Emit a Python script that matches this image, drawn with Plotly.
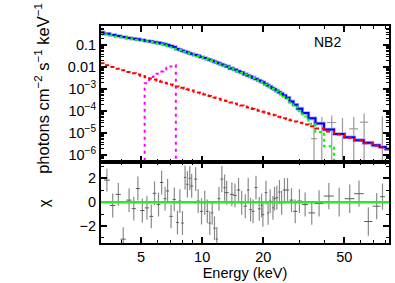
import math
import plotly.graph_objects as go
from plotly.subplots import make_subplots

# ---------------- data ----------------
model_E = [3.15, 3.40, 3.63, 3.87, 4.09, 4.37, 4.61, 4.83, 5.08, 5.35, 5.62, 5.83, 6.10, 6.32, 6.57, 6.76,
           7.03, 7.29, 7.56, 7.77, 8.00, 8.24, 8.46, 8.69, 8.88, 9.29, 9.56, 9.93, 10.3, 10.6, 10.9, 11.2,
           11.5, 11.8, 12.1, 12.5, 12.9, 13.2, 14.0, 14.5, 15.1, 15.65, 16.3, 16.85, 17.3, 17.8, 18.4, 19.1,
           19.6, 19.9, 20.6, 21.1, 21.6, 22.3, 22.7, 23.3, 24.0, 24.6, 25.4, 26.3, 27.5, 28.7, 30.1, 32.1,
           34.6, 37.6, 42.0, 47.2, 53.2, 59.1, 65.7, 72.2, 77.1, 83.0]

model_total = [0.389, 0.331, 0.295, 0.263, 0.240, 0.216, 0.200, 0.186, 0.174, 0.158, 0.148, 0.138, 0.129, 0.120,
               0.112, 0.104, 0.0935, 0.0840, 0.0675, 0.0625, 0.0566, 0.0515, 0.0479, 0.0437, 0.0407, 0.0363,
               0.0331, 0.0295, 0.0263, 0.0240, 0.0219, 0.0200, 0.0182, 0.0166, 0.0151, 0.0135, 0.0120, 0.0110,
               8.91e-3, 7.76e-3, 6.61e-3, 5.75e-3, 4.90e-3, 4.27e-3, 3.80e-3, 3.39e-3, 2.95e-3, 2.51e-3,
               2.24e-3, 2.09e-3, 1.74e-3, 1.51e-3, 1.32e-3, 1.12e-3, 1.00e-3, 8.71e-4, 7.41e-4, 6.31e-4,
               5.25e-4, 4.17e-4, 2.82e-4, 2.00e-4, 1.32e-4, 8.32e-5, 4.79e-5, 2.82e-5, 1.48e-5, 9.3e-6,
               6.6e-6, 4.9e-6, 3.7e-6, 2.85e-6, 2.38e-6, 1.95e-6]

model_powerlaw = [1.52e-2, 1.23e-2, 1.03e-2, 8.59e-3, 7.38e-3, 6.17e-3, 5.31e-3, 4.67e-3, 4.06e-3, 3.53e-3,
                  3.08e-3, 2.79e-3, 2.46e-3, 2.23e-3, 2.00e-3, 1.85e-3, 1.66e-3, 1.51e-3, 1.36e-3, 1.26e-3,
                  1.17e-3, 1.07e-3, 1.00e-3, 9.29e-4, 8.75e-4, 7.73e-4, 7.13e-4, 6.43e-4, 5.81e-4, 5.37e-4,
                  4.97e-4, 4.61e-4, 4.29e-4, 3.99e-4, 3.72e-4, 3.40e-4, 3.13e-4, 2.94e-4, 2.50e-4, 2.27e-4,
                  2.03e-4, 1.84e-4, 1.65e-4, 1.50e-4, 1.40e-4, 1.29e-4, 1.18e-4, 1.07e-4, 9.93e-5, 9.53e-5,
                  8.67e-5, 8.11e-5, 7.60e-5, 6.97e-5, 6.62e-5, 6.17e-5, 5.68e-5, 5.31e-5, 4.86e-5, 4.42e-5,
                  3.91e-5, 3.48e-5, 3.05e-5, 2.55e-5, 2.08e-5, 1.66e-5, 1.22e-5, 8.85e-6, 6.37e-6, 4.77e-6,
                  3.58e-6, 2.76e-6, 2.30e-6, 1.88e-6]

model_thermal = [0.374, 0.319, 0.285, 0.254, 0.233, 0.210, 0.195, 0.181, 0.170, 0.153, 0.142, 0.131, 0.121,
                 0.111, 0.102, 0.0926, 0.0808, 0.0702, 0.0661, 0.0612, 0.0554, 0.0504, 0.0469, 0.0428,
                 0.0398, 0.0355, 0.0324, 0.0289, 0.0257, 0.0235, 0.0214, 0.0195, 0.0178, 0.0162, 0.0147,
                 0.0132, 0.0117, 0.0107, 8.66e-3, 7.53e-3, 6.41e-3, 5.57e-3, 4.74e-3, 4.12e-3, 3.66e-3,
                 3.26e-3, 2.83e-3, 2.40e-3, 2.14e-3, 2.00e-3, 1.65e-3, 1.43e-3, 1.24e-3, 1.05e-3, 9.34e-4,
                 8.09e-4, 6.84e-4, 5.78e-4, 4.76e-4, 3.73e-4, 2.43e-4, 1.65e-4, 1.02e-4, 5.77e-5, 2.71e-5,
                 1.16e-5, 2.6e-6, 4e-7, 2e-8, 1e-9, 1e-9, 1e-9, 1e-9, 1e-9]

line_E = [5.08, 5.35, 5.62, 5.83, 6.10, 6.32, 6.57, 6.76, 7.03, 7.29, 7.56]
line_F = [1e-9, 1.9e-3, 2.8e-3, 3.8e-3, 5.1e-3, 6.5e-3, 8.1e-3, 9.5e-3, 1.10e-2, 1.23e-2, 1e-9]

# visible high-energy data points in the upper panel
dat_E = [35.5, 38.8, 43.4, 49.0, 55.7, 62.6, 77.0]
dat_F = [5.7e-6, 3e-7, 3.1e-5, 3e-7, 1.6e-5, 3.2e-5, 3e-7]
dat_hi = [5.2e-5, 5.5e-5, 6.5e-5, 5.0e-5, 5.5e-5, 8.0e-5, 6.0e-5]
dat_lo = [1e-9, 1e-9, 1e-9, 1e-9, 1e-9, 1e-9, 1e-9]
dat_dx = [1.2, 1.0, 2.3, 1.5, 2.8, 3.0, 2.0]

# residuals
res_E = [3.40, 3.63, 3.87, 4.09, 4.37, 4.61, 4.83, 5.08, 5.35, 5.62, 5.83, 6.10, 6.32, 6.57, 6.76, 7.03,
         7.29, 7.56, 7.77, 8.00, 8.24, 8.46, 8.69, 8.88, 9.29, 9.56, 9.93, 10.3, 10.6, 10.9, 11.2, 11.5,
         11.8, 12.1, 12.5, 12.9, 13.2, 14.0, 14.5, 15.1, 15.65, 16.3, 16.85, 17.3, 17.8, 18.4, 19.1, 19.6,
         19.9, 20.6, 21.1, 21.6, 22.3, 22.7, 23.3, 24.0, 24.6, 25.4, 26.3, 27.5, 28.7, 30.1, 32.1, 34.6,
         37.6, 42.0, 47.2, 53.2, 59.1, 65.7, 72.2, 77.1]
res_val = [1.85, -0.28, 0.65, -3.1, 0.17, -0.54, 1.14, -0.7, -0.48, -1.19, 0.74, -0.2, 1.65, 0.29, 0.94,
           -1.19, 0.23, -1.7, 0.09, -1.75, 2.07, 1.5, 2.0, 1.36, 1.93, 0.09, -0.77, -0.05, -0.77, -1.75,
           -0.9, -2.18, -3.09, 0.29, 1.93, 1.22, 0.8, 0.65, 0.57, 1.02, -0.05, -0.34, 1.02, -0.62, -0.77,
           1.22, -0.56, -0.28, -1.05, 0.8, -0.9, 0.09, -0.48, 0.29, 0.37, 0.85, -0.05, 1.02, 1.02, 0.17,
           -0.77, 0.09, -0.2, -0.9, -0.11, 0.51, 0.0, 0.29, 0.71, -1.62, -0.34, 0.46]
res_err = [0.95, 1.0, 0.95, 1.0, 1.0, 1.0, 1.0, 1.0, 1.0, 1.0, 1.0, 1.0, 1.0, 1.0, 1.0, 1.0,
           1.0, 1.0, 1.0, 1.0, 1.0, 1.1, 1.0, 1.0, 1.0, 1.0, 1.1, 1.0, 1.0, 1.0, 1.0, 1.0,
           1.0, 1.0, 1.1, 1.1, 1.0, 1.0, 1.0, 1.0, 1.0, 1.0, 1.0, 1.0, 1.0, 1.0, 1.0, 1.0,
           1.0, 1.0, 1.0, 1.0, 1.0, 1.0, 1.0, 1.0, 1.0, 1.0, 1.0, 1.0, 1.0, 1.0, 1.0, 1.0,
           1.1, 1.1, 1.2, 1.2, 1.1, 1.2, 1.1, 1.1]
res_dx = [.11, .11, .11, .12, .13, .11, .11, .13, .13, .12, .12, .13, .12, .11, .12, .13, .13, .12, .11, .12,
          .11, .11, .11, .15, .16, .17, .18, .15, .15, .15, .15, .15, .15, .18, .2, .17, .3, .3, .3, .3,
          .3, .3, .25, .25, .3, .3, .3, .2, .3, .3, .25, .3, .25, .3, .35, .3, .4, .45, .5, .6,
          .7, .9, 1.1, 1.3, 1.8, 2.4, 2.8, 2.9, 3.2, 3.0, 3.2, 2.2]

x_ticks = [5, 10, 20, 50]
x_minor = [3, 4, 6, 7, 8, 9, 30, 40, 60, 70, 80]
y_ticks = [1e-6, 1e-5, 1e-4, 1e-3, 0.01, 0.1]
y_ticktext = ["10<sup>−6</sup>", "10<sup>−5</sup>", "10<sup>−4</sup>", "10<sup>−3</sup>", "0.01", "0.1"]
chi_ticks = [-2, 0, 2]
chi_ticktext = ["−2", "0", "2"]
chi_minor = [-3, -1, 1, 3]

# ---------------- figure ----------------
FONT = "Liberation Sans, Arial, Helvetica, sans-serif"
fig = make_subplots(rows=2, cols=1, shared_xaxes=True, vertical_spacing=0,
                    row_heights=[0.627, 0.373])

# data crosses (upper panel)
fig.add_trace(go.Scatter(
    x=dat_E, y=dat_F, mode="markers", marker=dict(size=1, color="rgba(0,0,0,0)"),
    error_y=dict(type="data", symmetric=False,
                 array=[h - f for h, f in zip(dat_hi, dat_F)],
                 arrayminus=[f - l for f, l in zip(dat_F, dat_lo)],
                 color="#9a9a9a", thickness=1.2, width=0),
    error_x=dict(type="data", array=dat_dx, color="#9a9a9a", thickness=1.2, width=0),
    showlegend=False), row=1, col=1)

# total model with a light halo
fig.add_trace(go.Scatter(x=model_E, y=model_total, mode="lines", line_shape="hvh",
                         line=dict(color="#a8a8ff", width=3.6), showlegend=False), row=1, col=1)
fig.add_trace(go.Scatter(x=model_E, y=model_total, mode="lines", line_shape="hvh",
                         line=dict(color="#0000ff", width=2), showlegend=False), row=1, col=1)
# line component
fig.add_trace(go.Scatter(x=line_E, y=line_F, mode="lines", line_shape="hvh",
                         line=dict(color="#ff00ff", width=2, dash="3px,4px"), showlegend=False), row=1, col=1)
# power law
fig.add_trace(go.Scatter(x=model_E, y=model_powerlaw, mode="lines", line_shape="hvh",
                         line=dict(color="#ff0000", width=2, dash="4px,3px"), showlegend=False), row=1, col=1)
# thermal
fig.add_trace(go.Scatter(x=model_E, y=model_thermal, mode="lines", line_shape="hvh",
                         line=dict(color="#00ff00", width=2, dash="3px,3px"), showlegend=False), row=1, col=1)

# residuals
fig.add_trace(go.Scatter(
    x=res_E, y=res_val, mode="markers", marker=dict(size=1, color="rgba(0,0,0,0)"),
    error_y=dict(type="data", array=res_err, color="#8a8a8a", thickness=1.2, width=0),
    error_x=dict(type="data", array=res_dx, color="#5a5a5a", thickness=1.0, width=0),
    showlegend=False), row=2, col=1)
fig.add_hline(y=0, line=dict(color="#22ee22", width=2.5), row=2, col=1)

axis_common = dict(showline=True, linewidth=2, linecolor="black", mirror="allticks",
                   ticks="inside", tickcolor="black", tickwidth=1.5, showgrid=False, zeroline=False)

xr = [math.log10(3.18), math.log10(83)]
fig.update_xaxes(type="log", range=xr, tickvals=x_ticks, ticktext=[str(v) for v in x_ticks],
                 ticklen=6, minor=dict(tickvals=x_minor, ticks="inside", ticklen=3,
                                       tickcolor="black", tickwidth=1.2, showgrid=False),
                 **axis_common)
fig.update_xaxes(showticklabels=False, row=1, col=1)
fig.update_xaxes(showticklabels=True, row=2, col=1,
                 tickfont=dict(family=FONT, size=14.5, color="black"),
                 title=dict(text="Energy (keV)", font=dict(family=FONT, size=14.5, color="black"),
                            standoff=2))

y_minor = [k * 10.0 ** e for e in range(-7, 0) for k in range(2, 10)]
fig.update_yaxes(type="log", range=[-6.305, -0.123], tickvals=y_ticks, ticktext=y_ticktext,
                 ticklen=6, tickfont=dict(family=FONT, size=14.5, color="black"),
                 minor=dict(tickvals=y_minor, ticks="inside", ticklen=3, tickcolor="black",
                            tickwidth=1, showgrid=False),
                 row=1, col=1, **axis_common)
fig.update_yaxes(range=[-3.42, 3.36], tickvals=chi_ticks, ticktext=chi_ticktext, ticklen=6,
                 tickfont=dict(family=FONT, size=14.5, color="black"),
                 minor=dict(tickvals=chi_minor, ticks="inside", ticklen=3, tickcolor="black",
                            tickwidth=1.2, showgrid=False),
                 row=2, col=1, **axis_common)

fig.add_annotation(text="photons cm<sup>−2</sup> s<sup>−1</sup> keV<sup>−1</sup>",
                   xref="paper", yref="paper", x=-0.205, y=0.715, textangle=-90,
                   showarrow=False, xanchor="center", yanchor="middle",
                   font=dict(family=FONT, size=16.5, color="black"))
fig.add_annotation(text="χ", xref="paper", yref="paper", x=-0.2, y=0.185, textangle=-90,
                   showarrow=False, xanchor="center", yanchor="middle",
                   font=dict(family=FONT, size=15, color="black"))
fig.add_annotation(text="NB2", xref="paper", yref="paper", x=0.788, y=0.925,
                   showarrow=False, xanchor="center", yanchor="middle",
                   font=dict(family=FONT, size=14, color="black"))

fig.update_layout(width=395, height=283, autosize=False,
                  margin=dict(l=101, r=4, t=26, b=40),
                  paper_bgcolor="white", plot_bgcolor="white",
                  font=dict(family=FONT, size=14.5, color="black"))

fig.write_html("out.html", config={"displayModeBar": False},
               post_script="document.body.style.margin='0';document.body.style.overflow='hidden';")
